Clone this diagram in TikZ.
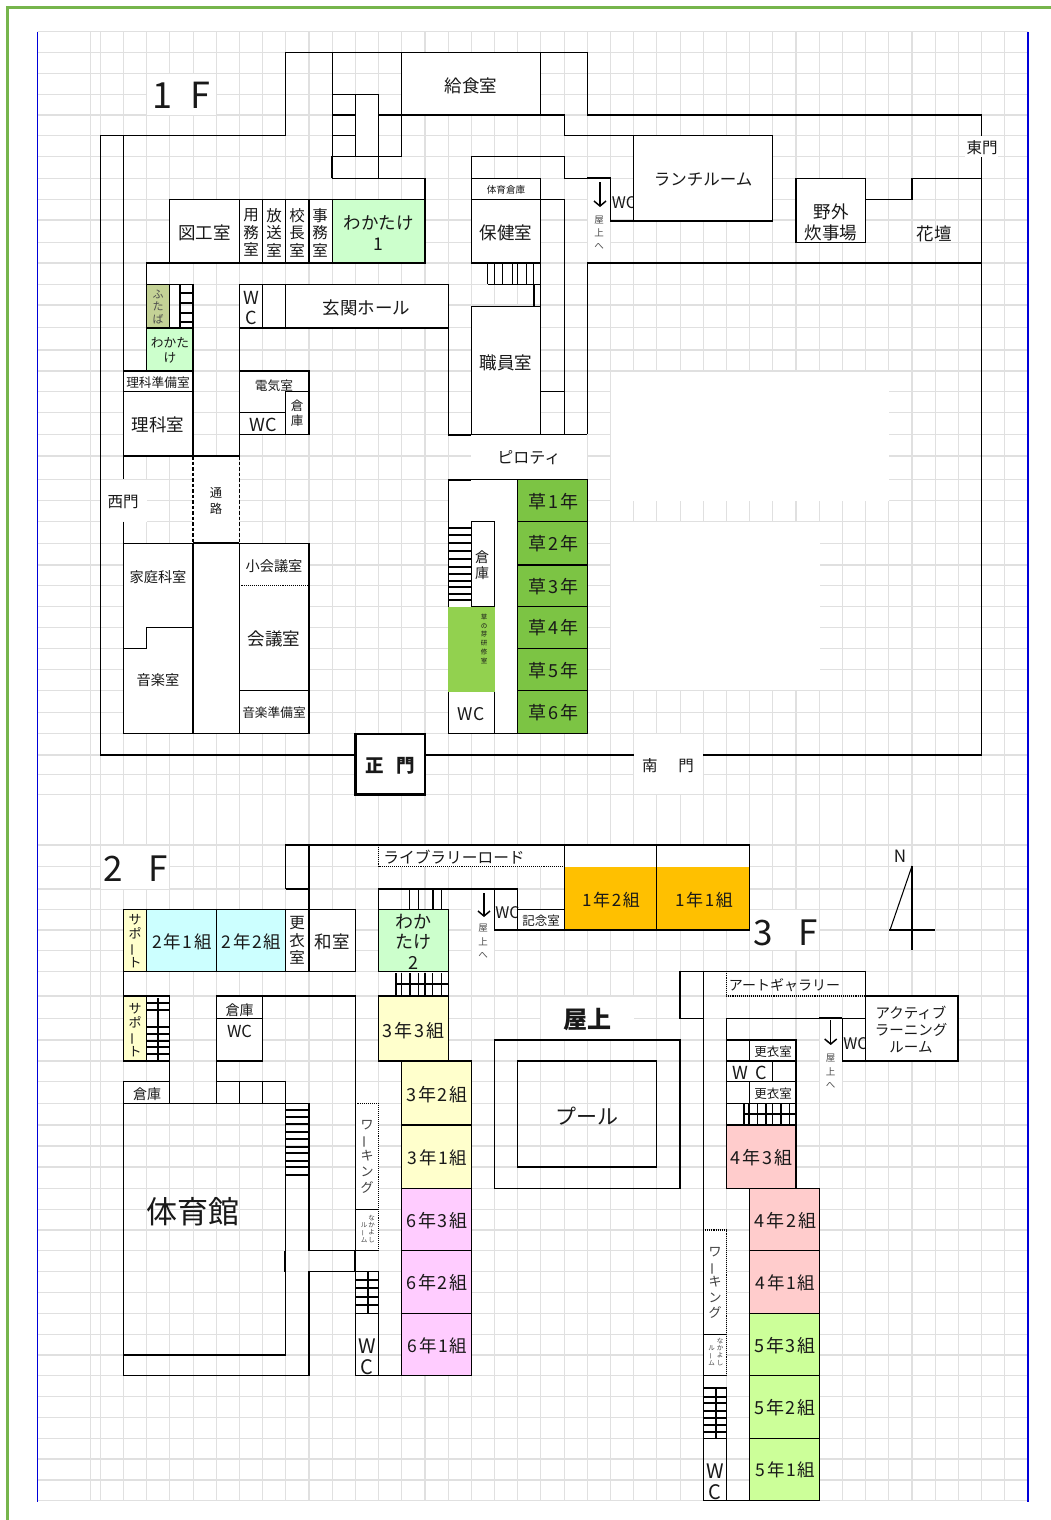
\documentclass[tikz,border=0pt]{standalone}
\usepackage{fontspec}
\setmainfont{Noto Sans CJK JP}
\usetikzlibrary{arrows.meta}
\definecolor{gridgray}{HTML}{E0E0E0}
\definecolor{framegreen}{HTML}{76B54C}
\definecolor{lgreen}{HTML}{CCFFCC}
\definecolor{lcyan}{HTML}{CCFFFF}
\definecolor{lyellow}{HTML}{FFFFCC}
\definecolor{lpink}{HTML}{FFCCFF}
\definecolor{lred}{HTML}{FFCCCC}
\definecolor{lime}{HTML}{CCFF99}
\definecolor{kusa}{HTML}{7CC444}
\definecolor{kenshu}{HTML}{92D14F}
\definecolor{orangeroom}{HTML}{FFC000}
\definecolor{olive}{HTML}{C4D296}
\newcommand{\vbar}{\rotatebox[origin=c]{90}{ー}}
\newcommand{\tightlines}{\lineskiplimit=-30pt\relax}
\newcommand{\clsfont}[1]{\fontsize{#1}{20}\selectfont\addfontfeature{LetterSpace=10}}
\tikzset{
    wall/.style={line width=1.05pt, line join=miter},
    room/.style={wall, draw=black, fill=#1},
    room/.default=white,
    patch/.style={fill=white, draw=none},
    gridln/.style={gridgray, line width=1.1pt},
    lab/.style 2 args={inner sep=0pt, yshift=-0.7pt, align=center, text=black!90, font=\fontsize{#1}{#2}\selectfont\tightlines},
    cls/.style={lab={#1}{20}, font=\clsfont{#1}},
    down/.style={-{Straight Barb[length=5pt,width=12pt]}, line width=1.5pt},
}
\begin{document}
\begin{tikzpicture}[x=1pt,y=-1pt]
    \useasboundingbox (0,0) rectangle (1051,1520);
    \fill[white] (0,0) rectangle (1051,1520);

    % grid
    \foreach \gk in {0,...,40} \draw[gridln] ({100.3+23.19*\gk},31.7) -- ({100.3+23.19*\gk},1501);
    \draw[gridln] (90.7,31.7) -- (90.7,1501);
    \foreach \gy in {31.7,52.5,73.3,94.3,115,135.7,156.7,178.3,199.7,220,242.3,263,284.3,305,327.3,350,371,391.7,412.7,434.3,456,479.3,500.5,521.7,543.3,565,585.7,606.7,627.3,648.3,669.3,690.7,712.7,733.3,755,774.3,794.5,845,866.7,889,909.3,930,950.7,971.3,996,1018.3,1040,1061,1081.7,1103.3,1125,1146,1167,1188.3,1209.3,1230,1250.7,1271.7,1292.5,1313.3,1334.3,1355,1375.7,1396.7,1417.3,1438.3,1459,1480,1500.7}
        \draw[gridln] (37.5,\gy) -- (1028,\gy);
    \draw[blue!85!black, line width=1.2pt] (37.5,31.7) -- (37.5,1501.5);
    \draw[blue!85!black, line width=2.2pt] (1028,31.7) -- (1028,1501.5);
    \draw[framegreen, line width=2.8pt] (7.3,1525) -- (7.3,7.3) -- (1056,7.3);

    % white cells over the grid
    \fill[patch] (610.5,371.6) rectangle (889,500.6);
    \fill[patch] (610.5,521.5) rectangle (819.5,690);
    \fill[patch] (633.5,733.8) rectangle (702.5,794);
    \fill[patch] (146.7,73.9) rectangle (216,114.5);
    \fill[patch] (100.8,845.5) rectangle (169,888.5);
    \fill[patch] (749.5,909.8) rectangle (819,950);
    \fill[patch] (540.5,996.5) rectangle (633.5,1039.5);
    \fill[patch] (101,479.5) rectangle (146.7,521.5);
    \fill[patch] (965,136) rectangle (998,157);
    \fill[patch] (471,434.5) rectangle (587,479);
    \fill[patch] (587.5,178.5) rectangle (610,263);
    \fill[patch] (471.5,889.5) rectangle (494,971);
    \fill[patch] (819.5,1018.5) rectangle (842,1096);
    \fill[patch] (448,479) rectangle (518,733);
    \fill[patch] (193,456) rectangle (239,543);
    \fill[patch] (332,94) rectangle (379,157);

    % 1F outline
    \draw[wall] (355,755) -- (100.3,755) -- (100.3,135.7) -- (285.8,135.7) -- (285.8,52.7) -- (587.3,52.7) -- (587.3,115) -- (981.5,115) -- (981.5,136);
    \draw[wall] (981.5,157) -- (981.5,755) -- (702.5,755);
    \draw[wall] (633.5,755) -- (425,755);
    \draw[wall] (123.5,135.7) -- (123.5,479.3);
    \draw[wall] (123.5,521.7) -- (123.5,733.3);

    % 1F kitchen and stairs
    \draw[room] (401.8,52.7) rectangle (540.9,115);
    \draw[wall] (332.2,52.7) -- (332.2,178.3);
    \draw[wall] (332.2,94.3) -- (378.6,94.3) -- (378.6,178.3);
    \draw[wall] (355.4,94.3) -- (355.4,156.7);
    \draw[wall] (332.2,115) -- (355.4,115);
    \draw[wall] (332.2,135.7) -- (355.4,135.7);
    \draw[wall] (378.6,115) -- (564.1,115) -- (564.1,135.7) -- (633.7,135.7);
    \draw[wall] (331,156.7) -- (401.8,156.7) -- (401.8,115);
    \draw[wall, line width=1.8pt] (331.5,156.7) -- (331.5,178.3);
    \draw[wall] (332.2,178.3) -- (425,178.3) -- (425,199.7);
    \draw[wall] (471.3,156.7) -- (564.1,156.7) -- (564.1,178.3) -- (610.5,178.3);
    \draw[wall, line width=1.8pt] (587.3,178.3) -- (610.5,178.3);
    \draw[wall] (541,199.7) -- (564.1,199.7) -- (564.1,434.3);
    \draw[wall] (471.3,156.7) -- (471.3,178.3);
    \draw[wall] (587.3,434.3) -- (587.3,263) -- (981.5,263);

    % 1F rooms, north wing
    \draw[room] (169.9,199.7) rectangle (239.4,263);
    \draw[room] (239.4,199.7) rectangle (262.6,263);
    \draw[room] (262.6,199.7) rectangle (285.8,263);
    \draw[room] (285.8,199.7) rectangle (309,263);
    \draw[room] (309,199.7) rectangle (332.2,263);
    \draw[room=lgreen] (332.2,199.7) rectangle (425,263);
    \draw[wall] (170,263) -- (146.7,263) -- (146.7,371);
    \draw[room=olive] (146.7,284.3) rectangle (169.9,328);
    \draw[room=lgreen] (146.7,328) rectangle (193,371);
    \draw[wall] (169.9,284.3) -- (193,284.3) -- (193,456);
    \draw[wall] (180,284.3) -- (180,328);
    \foreach \sy in {293,303,313,322} \draw[wall] (180,\sy) -- (193,\sy);
    \draw[wall] (169.9,328) -- (193,328);
    \draw[room] (123.5,371) rectangle (193,391.7);
    \draw[room] (123.5,391.7) rectangle (193,456);
    \draw[wall, line width=1.8pt] (193,456) -- (239.4,456);
    \draw[wall, dash pattern=on 3.5pt off 2pt] (193,456) -- (193,543.3);
    \draw[wall, dash pattern=on 3.5pt off 2pt] (239.4,456) -- (239.4,543.3);
    \draw[wall] (239.4,284.3) -- (239.4,456);
    \draw[room] (239.4,284.3) rectangle (262.6,328);
    \draw[room] (262.6,284.3) rectangle (285.8,328);
    \draw[room] (285.8,284.3) rectangle (448.1,328);
    \draw[wall, line width=1.6pt] (285.8,328.5) -- (448.1,328.5);
    \draw[room] (239.4,371) rectangle (309,434.3);
    \draw[wall] (239.4,412.7) -- (285.8,412.7);
    \draw[wall] (285.8,434.3) -- (285.8,391.7) -- (309,391.7);

    % 1F rooms, centre
    \draw[room] (471.3,178.3) rectangle (540.9,199.7);
    \draw[room] (471.3,199.7) rectangle (540.9,263);
    \draw[room] (471.3,306.7) rectangle (540.9,434.3);
    \draw[wall] (540.9,263) -- (540.9,306.7);
    \foreach \sx in {487.7,494.3,502.7,512.7,517.7,526.7,533.3} \draw[wall] (\sx,263) -- (\sx,284.3);
    \draw[wall] (487.7,284.3) -- (540.9,284.3);
    \draw[wall] (534,284.3) -- (534,306.7);
    \draw[wall] (540.9,391.7) -- (564.1,391.7);
    \draw[wall] (448.1,284.3) -- (448.1,434.3);
    \draw[wall] (448.1,434.3) -- (587.3,434.3);
    \draw[wall, line width=1.8pt] (448.1,435) -- (471.3,435);

    % 1F rooms, east
    \node[lab={16}{16}] (wc1f) at (624,202) {WC};
    \draw[wall] (610.5,178.3) -- (610.5,221) -- (633.7,221);
    \draw[room] (633.7,135.7) rectangle (772.8,221);
    \draw[room] (796,178.3) rectangle (865.6,242.3);
    \draw[wall] (865.6,199.7) -- (912,199.7) -- (912,178.3) -- (981.5,178.3);
    \draw[down] (600,182) -- (600,207);

    % 1F rooms, south-west
    \draw[room] (123.5,543.3) rectangle (193,733.3);
    \draw[wall] (123.5,648.3) -- (146.7,648.3) -- (146.7,627.3) -- (193,627.3);
    \draw[room] (193,543.3) rectangle (239.4,733.3);
    \draw[wall, line width=1.8pt] (193,543.3) -- (239.4,543.3);
    \draw[room] (239.4,543.3) rectangle (309,733.3);
    \draw[wall, densely dotted] (239.4,585.7) -- (309,585.7);
    \draw[wall] (239.4,690.7) -- (309,690.7);

    % 1F kusa block
    \draw[wall] (448.1,479.3) -- (587.3,479.3);
    \draw[wall, line width=1.8pt] (448.1,479.6) -- (471.3,479.6);
    \draw[wall] (448.1,479.3) -- (448.1,733.3) -- (517.7,733.3);
    \draw[wall] (494.5,521.7) -- (494.5,733.3);
    \draw[room] (471.3,521.7) rectangle (494.5,606.7);
    \foreach \sy in {528,535,543,551,559,567,574,581,587,594,600} \draw[wall] (448.1,\sy) -- (471.3,\sy);
    \fill[kenshu] (448.1,606.7) rectangle (494.5,691.7);
    \foreach \ky/\kz in {479.3/521.7,521.7/565,565/606.7,606.7/648.3,648.3/690.7,690.7/733.3}
        \draw[room=kusa] (517.7,\ky) rectangle (587.3,\kz);
    \draw[room, line width=2.4pt] (355.4,733.8) rectangle (425,794.5);

    % 1F labels
    \node[lab={36}{36}] (floor1) at (181,95) {1\hspace{18pt}F};
    \node[lab={17.5}{20}] (kyushoku) at (471,85) {給食室};
    \node[lab={17.5}{20}] (zuko) at (204.5,232) {図工室};
    \node[lab={15.5}{17.3}] (yomu) at (251,232) {用\\務\\室};
    \node[lab={15.5}{17.3}] (hoso) at (274,232) {放\\送\\室};
    \node[lab={15.5}{17.3}] (kocho) at (297,232) {校\\長\\室};
    \node[lab={15.5}{17.3}] (jimu) at (320,232) {事\\務\\室};
    \node[lab={17.5}{21}] (wakatake1) at (378.5,232) {わかたけ\\1};
    \node[lab={18}{20}] (wcgenkan) at (251,307) {W\\C};
    \node[lab={17.5}{20}] (genkan) at (366.5,307) {玄関ホール};
    \node[lab={11}{12.5},text=black!70] (futaba) at (158,306) {ふ\\た\\ば};
    \node[lab={12.7}{15}] (wakataS) at (170,350) {わかた\\け};
    \node[lab={12.7}{15}] (rikajunbi) at (158,382) {理科準備室};
    \node[lab={17.5}{20}] (rika) at (158,424) {理科室};
    \node[lab={12.7}{15}] (denki) at (274,385) {電気室};
    \node[lab={18}{20}] (wcdenki) at (263,424) {WC};
    \node[lab={12.5}{15}] (sokoD) at (297,413) {倉\\庫};
    \node[lab={9.6}{12}] (taiiku) at (506,189) {体育倉庫};
    \node[lab={17.5}{20}] (hoken) at (506,232) {保健室};
    \node[lab={17.5}{20}] (shokuin) at (506,362) {職員室};
    \node[lab={9.5}{13},text=black!70] (okujoA) at (599,232) {屋\\上\\へ};
    \node[lab={16.5}{20}] (lunch) at (703,179) {ランチルーム};
    \node[lab={17.5}{21}] (yagai) at (831,222) {野外\\炊事場};
    \node[lab={17.5}{20}] (kadan) at (934,233) {花壇};
    \node[lab={15.5}{18}] (higashi) at (982,147) {東門};
    \node[lab={16}{20}] (piloti) at (529,457) {ピロティ};
    \node[lab={15.5}{18}] (nishi) at (123,501) {西門};
    \node[lab={12.3}{15.7}] (tsuro) at (216,500) {通\\路};
    \node[lab={14.2}{17}] (shokaigi) at (274,565) {小会議室};
    \node[lab={17.5}{20}] (kaigi) at (274,638) {会議室};
    \node[lab={12.7}{15}] (ongakujunbi) at (274,712) {音楽準備室};
    \node[lab={14.2}{17}] (katei) at (158,576) {家庭科室};
    \node[lab={14.2}{17}] (ongaku) at (158,679) {音楽室};
    \node[lab={14}{16}] (sokoK) at (482,564) {倉\\庫};
    \node[lab={6.5}{8.7}] (kenshuL) at (484,638) {草\\の\\芽\\研\\修\\室};
    \node[lab={17.5}{20}] (wckusa) at (471,713) {WC};
    \node[cls=18] (kusa1) at (553.5,501) {草1年};
    \node[cls=18] (kusa2) at (553.5,543) {草2年};
    \node[cls=18] (kusa3) at (553.5,586) {草3年};
    \node[cls=18] (kusa4) at (553.5,627) {草4年};
    \node[cls=18] (kusa5) at (553.5,670) {草5年};
    \node[cls=18] (kusa6) at (553.5,712) {草6年};
    \node[lab={18.5}{20},font=\fontsize{18.5}{20}\selectfont\bfseries] (seimon) at (390,765) {正\hspace{13pt}門};
    \node[lab={15.5}{18}] (nanmon) at (668,765) {南\hspace{21pt}門};

    % 2F west
    \draw[wall] (285.8,889) -- (285.8,845) -- (749.6,845);
    \draw[wall] (285.8,889) -- (309,889);
    \draw[wall] (309,845) -- (309,909.3);
    \draw[room=lyellow] (123.5,909.3) rectangle (146.7,971.3);
    \draw[room=lcyan] (146.7,909.3) rectangle (216.3,971.3);
    \draw[room=lcyan] (216.3,909.3) rectangle (285.8,971.3);
    \draw[room] (285.8,909.3) rectangle (309,971.3);
    \draw[room] (309,909.3) rectangle (355.4,971.3);
    \draw[wall] (123.5,971.3) -- (123.5,996);
    \draw[room=lyellow] (123.5,996) rectangle (146.7,1061);
    \draw[wall] (146.7,996) -- (169.9,996) -- (169.9,1103.3) -- (216.3,1103.3) -- (216.3,996) -- (355.4,996) -- (355.4,1376);
    \draw[wall] (146.7,1061) -- (169.9,1061);
    \draw[wall] (158,998) -- (158,1062);
    \foreach \sy in {1003,1010,1027,1034,1041,1047,1054} \draw[wall] (146.7,\sy) -- (169.9,\sy);
    \draw[room] (216.3,996) rectangle (262.6,1018.3);
    \draw[room] (216.3,1018.3) rectangle (262.6,1061);
    \draw[room] (123.5,1081.7) rectangle (169.9,1103.3);
    \foreach \rx/\rz in {216.3/239.4,239.4/262.6,262.6/285.8} \draw[room] (\rx,1081.7) rectangle (\rz,1103.3);

    % 2F gym
    \draw[wall] (123.5,1103.3) -- (123.5,1375.7) -- (309,1375.7) -- (309,1271.7) -- (355.4,1271.7);
    \draw[wall] (123.5,1103.3) -- (309,1103.3) -- (309,1250.7) -- (355.4,1250.7);
    \draw[wall] (123.5,1355) -- (285.8,1355) -- (285.8,1103.3);
    \draw[wall, line width=1.8pt] (285.3,1250.7) -- (285.3,1271.7);
    \draw[wall, line width=1.8pt] (355,1250.7) -- (355,1271.7);
    \foreach \sy in {1110,1117,1124,1132,1139,1147,1153,1161,1167,1175} \draw[wall] (285.8,\sy) -- (309,\sy);

    % 2F working space and WC
    \fill[patch] (355.4,1103.3) rectangle (378.6,1250.7);
    \draw[wall] (355.4,1103.3) -- (355.4,1250.7) -- (378.6,1250.7);
    \draw[wall] (355.4,1209.3) -- (378.6,1209.3);
    \draw[wall, densely dotted] (355.4,1103.3) -- (378.6,1103.3) -- (378.6,1250.7);
    \draw[wall] (355.4,1271.7) -- (378.6,1271.7) -- (378.6,1375.7);
    \foreach \sy in {1280,1288,1297,1305,1313.3} \draw[wall] (355.4,\sy) -- (378.6,\sy);
    \draw[wall] (368,1271.7) -- (368,1313.3);
    \draw[wall] (355.4,1375.7) -- (471.7,1375.7);

    % 2F class rooms
    \draw[room=lgreen] (378.6,909.3) rectangle (448.1,971.3);
    \draw[wall] (378.6,909.3) -- (378.6,889) -- (494.5,889);
    \draw[wall, line width=1.8pt] (471.3,889) -- (494.5,889);
    \foreach \sx in {409.3,418.3,433,441.7} \draw[wall] (\sx,889.5) -- (\sx,910);
    \draw[wall] (448.1,971.3) -- (448.1,996);
    \draw[wall] (396,984) -- (448.1,984);
    \foreach \sx in {396,401.7,410,418.3,425,432.7,441.7} \draw[wall] (\sx,973) -- (\sx,996);
    \draw[room=lyellow] (378.6,996) rectangle (448.1,1061);
    \draw[room=lyellow] (401.8,1061) rectangle (471.7,1125);
    \draw[room=lyellow] (401.8,1125) rectangle (471.7,1188.3);
    \draw[room=lpink] (401.8,1188.3) rectangle (471.7,1250.7);
    \draw[room=lpink] (401.8,1250.7) rectangle (471.7,1313.3);
    \draw[room=lpink] (401.8,1313.3) rectangle (471.7,1375.7);

    % 2F library road and first grade
    \fill[patch] (378.6,845) rectangle (564.1,866.7);
    \draw[wall, densely dotted] (378.6,845) -- (378.6,866.7) -- (564.1,866.7);
    \draw[wall] (378.6,845) -- (564.1,845);
    \node[lab={16}{16}] (wc2f) at (507.5,911.5) {WC};
    \draw[wall] (494.5,889) -- (494.5,930) -- (517.7,930);
    \draw[wall] (517.7,889) -- (517.7,909.3);
    \draw[wall] (494.5,889) -- (517.7,889);
    \draw[room] (517.7,909.3) rectangle (564.1,930);
    \draw[room] (564.1,845) rectangle (656.9,930);
    \draw[room] (656.9,845) rectangle (749.6,930);
    \fill[orangeroom] (564.1,866.7) rectangle (749.6,930);
    \draw[wall] (564.1,845) rectangle (656.9,930);
    \draw[wall] (656.9,845) rectangle (749.6,930);
    \draw[down] (484,893) -- (484,917);

    % roof
    \draw[wall] (494.5,1040) rectangle (680,1188.3);
    \draw[wall] (517.7,1061) rectangle (656.9,1167);

    % 2F labels
    \node[lab={35}{35}] (floor2) at (135.5,868) {2\hspace{26pt}F};
    \node[lab={13}{14.3}] (supportA) at (135,940) {サ\\ポ\\\vbar\\ト};
    \node[cls=17.5] (nen21) at (182,941) {2年1組};
    \node[cls=17.5] (nen22) at (251.5,941) {2年2組};
    \node[lab={15.5}{17.5}] (koui2f) at (297,940) {更\\衣\\室};
    \node[lab={17.5}{20}] (washitsu) at (332,941) {和室};
    \node[lab={13}{14.3}] (supportB) at (135,1029) {サ\\ポ\\\vbar\\ト};
    \node[lab={14}{16}] (sokoW) at (239.5,1009) {倉庫};
    \node[lab={16.5}{18}] (wcmid) at (239.5,1031) {WC};
    \node[lab={14}{16}] (sokoG) at (147,1093) {倉庫};
    \node[lab={31}{34}] (gym) at (193,1211) {体育館};
    \node[lab={15.7}{18}] (library) at (454,856) {ライブラリーロード};
    \node[lab={12.5}{15}] (kinen) at (541,920) {記念室};
    \node[lab={9.5}{13.5},text=black!70] (okujoB) at (483,941) {屋\\上\\へ};
    \node[cls=17] (nen12) at (611,899) {1年2組};
    \node[cls=17] (nen11) at (704,899) {1年1組};
    \node[lab={18}{20.7}] (wakatake2) at (413,941) {わか\\たけ\\2};
    \node[cls=18] (nen33) at (413.5,1030) {3年3組};
    \node[cls=18] (nen32) at (437,1094) {3年2組};
    \node[cls=17.5] (nen31) at (437.5,1157) {3年1組};
    \node[cls=18] (nen63) at (437,1220) {6年3組};
    \node[cls=18] (nen62) at (437,1282) {6年2組};
    \node[cls=17.5] (nen61) at (437.5,1345) {6年1組};
    \node[lab={13}{15.7},text=black!75] (workA) at (367,1156) {ワ\\\vbar\\キ\\ン\\グ};
    \node[lab={6.5}{7.4},text=black!75] (nakaA) at (371.7,1228) {な\\か\\よ\\し};
    \node[lab={6.5}{7.4},text=black!75] (roomA) at (364,1232) {ル\\\vbar\\ム};
    \node[lab={20}{21}] (wc2fb) at (367,1356) {W\\C};
    \node[lab={24}{26},font=\fontsize{24}{26}\selectfont\bfseries] (rooftop) at (587,1019) {屋上};
    \node[lab={21}{24}] (pool) at (587,1115) {プール};

    % 3F
    \draw[wall] (703.2,1018.3) -- (680,1018.3) -- (680,971.3) -- (865.6,971.3) -- (865.6,996);
    \draw[wall] (703.2,971.3) -- (703.2,1500.7) -- (819.2,1500.7);
    \draw[wall, densely dotted] (726.4,971.3) -- (726.4,996) -- (865.6,996);
    \draw[wall] (726.4,1188.3) -- (726.4,1018.3) -- (842.4,1018.3);
    \draw[wall, line width=1.8pt] (819.2,1018.3) -- (842.4,1018.3);
    \node[lab={16}{16}] (wc3f) at (855.5,1043) {WC};
    \draw[wall] (842.4,1018.3) -- (842.4,1061) -- (865.6,1061) -- (865.6,1018.3) -- (842.4,1018.3);
    \draw[room] (865.6,996) rectangle (958,1061);
    \draw[down] (830.7,1020) -- (830.7,1045);
    \draw[room] (726.4,1040) rectangle (749.6,1061);
    \draw[room] (749.6,1040) rectangle (796,1061);
    \draw[room] (726.4,1061) rectangle (772.8,1081.7);
    \draw[room] (772.8,1061) rectangle (796,1081.7);
    \draw[room] (726.4,1081.7) rectangle (749.6,1103.3);
    \draw[room] (749.6,1081.7) rectangle (796,1103.3);
    \draw[wall] (796,1103.3) -- (796,1125);
    \draw[wall] (744,1114) -- (796,1114);
    \foreach \sx in {744,749,757.7,766,772.7,781,789.3} \draw[wall] (\sx,1103.3) -- (\sx,1125);
    \draw[room=lred] (726.4,1125) rectangle (796,1188.3);
    \draw[room=lred] (749.6,1188.3) rectangle (819.2,1250.7);
    \draw[room=lred] (749.6,1250.7) rectangle (819.2,1313.3);
    \draw[room=lime] (749.6,1313.3) rectangle (819.2,1375.7);
    \draw[room=lime] (749.6,1375.7) rectangle (819.2,1438.3);
    \draw[room=lime] (749.6,1438.3) rectangle (819.2,1500.7);
    \fill[patch] (703.2,1230) rectangle (726.4,1375.7);
    \draw[wall] (703.2,1230) -- (703.2,1375.7) -- (726.4,1375.7);
    \draw[wall] (703.2,1334.3) -- (726.4,1334.3);
    \draw[wall, densely dotted] (703.2,1230) -- (726.4,1230) -- (726.4,1375.7);
    \draw[wall] (703.2,1388) -- (726.4,1388) -- (726.4,1500.7);
    \foreach \sy in {1397,1403,1411,1418,1425,1432,1438.3} \draw[wall] (703.2,\sy) -- (726.4,\sy);
    \draw[wall] (716,1388) -- (716,1438.3);

    % 3F labels
    \node[lab={35}{35}] (floor3) at (785.5,932) {3\hspace{26pt}F};
    \node[lab={14}{17}] (gallery) at (784.5,984) {アートギャラリー};
    \node[lab={14.5}{17}] (active) at (911,1029) {アクティブ\\ラーニング\\ルーム};
    \node[lab={12.5}{15}] (kouiA) at (773,1051) {更衣室};
    \node[lab={18}{20}] (wcrow) at (750,1072) {W\hspace{7pt}C};
    \node[lab={12.5}{15}] (kouiB) at (773,1093) {更衣室};
    \node[lab={9.5}{13.5},text=black!70] (okujoC) at (830.5,1071) {屋\\上\\へ};
    \node[cls=18] (nen43) at (761.5,1157) {4年3組};
    \node[cls=18] (nen42) at (785.5,1220) {4年2組};
    \node[cls=17.5] (nen41) at (785.5,1282) {4年1組};
    \node[cls=18] (nen53) at (785,1345) {5年3組};
    \node[cls=18] (nen52) at (785,1407) {5年2組};
    \node[cls=17.5] (nen51) at (785.5,1469) {5年1組};
    \node[lab={13}{15.2},text=black!75] (workB) at (715,1282) {ワ\\\vbar\\キ\\ン\\グ};
    \node[lab={6.5}{7.4},text=black!75] (nakaB) at (720,1351) {な\\か\\よ\\し};
    \node[lab={6.5}{7.4},text=black!75] (roomB) at (711.7,1355) {ル\\\vbar\\ム};
    \node[lab={20}{21}] (wc3fb) at (715,1481) {W\\C};

    % north mark
    \node[lab={17}{20}] (north) at (900,856) {N};
    \draw[wall] (912,866) -- (912,950);
    \draw[wall] (912,866) -- (890,930);
    \draw[wall] (889,930) -- (935,930);
\end{tikzpicture}
\end{document}
